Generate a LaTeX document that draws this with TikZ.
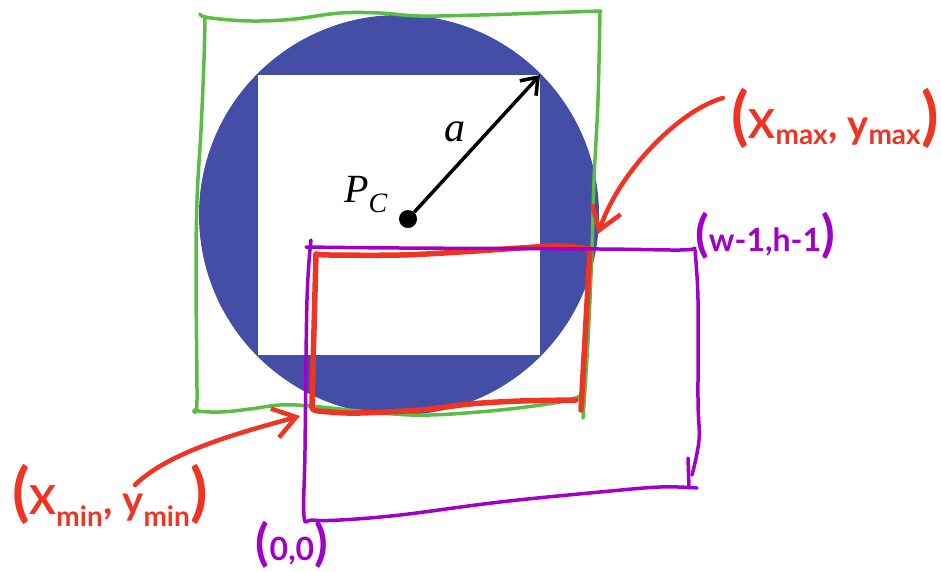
\documentclass[tikz,border=0pt]{standalone}
\usepackage{fontspec}
\setmainfont{Liberation Serif}
\newfontfamily\handfont{Lato}
\usetikzlibrary{arrows.meta}

\definecolor{discblue}{HTML}{444EA6}
\definecolor{boxgreen}{HTML}{5CBD45}
\definecolor{boxred}{HTML}{EE3524}
\definecolor{boxpurple}{HTML}{A100C9}

\newcommand{\hwparen}[2]{{\fontsize{#1}{#1}\selectfont #2}}

\begin{document}
\begin{tikzpicture}[x=1pt, y=-1pt,
    greenline/.style={draw=boxgreen, line width=3.5pt, line cap=round, line join=round},
    redline/.style={draw=boxred, line width=5.5pt, line cap=round, line join=round},
    purpleline/.style={draw=boxpurple, line width=3.5pt, line cap=round, line join=round},
    pointer/.style={draw=boxred, line width=4.5pt, line cap=round, -{Straight Barb[length=22pt, width=30pt, line width=4.5pt]}},
    redlabel/.style={text=boxred, font=\handfont\bfseries\fontsize{40}{40}\selectfont, inner sep=0pt},
    purplelabel/.style={text=boxpurple, font=\handfont\bfseries\fontsize{32}{32}\selectfont, inner sep=0pt}]

    \useasboundingbox (0,0) rectangle (941,571);

    % disc with the inscribed square
    \fill [discblue] (399,215) circle (200);
    \fill [white] (258,75) rectangle (540,355);

    % hand drawn boxes
    \draw [greenline] plot [smooth, tension=0.6] coordinates {(200,14) (205,17) (230,20) (260,21) (295,19) (340,13) (380,13) (420,16) (480,15) (540,13) (601,11)};
    \draw [greenline] plot [smooth, tension=0.6] coordinates {(600,11) (598,100) (594,180) (592,250) (588,340) (583,418)};
    \draw [greenline] plot [smooth, tension=0.6] coordinates {(205,17) (204,60) (201,130) (197,200) (196,280) (197,400) (195,410) (220,412) (250,409) (280,405) (310,406) (380,413) (430,415) (500,410) (560,402) (580,396)};

    \draw [redline] plot [smooth, tension=0.6] coordinates {(316,254) (330,255) (400,255) (460,252) (520,248) (560,246) (590,249)};
    \draw [redline] (316,254) -- (312,405);
    \draw [redline] (590,250) -- (581,410);
    \draw [redline] plot [smooth, tension=0.6] coordinates {(312,405) (314,410) (330,412) (360,413) (420,410) (470,404) (520,401) (576,400)};

    \draw [purpleline] plot [smooth, tension=0.6] coordinates {(311,240) (307,300) (305,450) (304,516) (312,520) (340,520) (400,515) (500,502) (600,492) (660,487) (697,488)};
    \draw [purpleline] plot [smooth, tension=0.6] coordinates {(306,247) (400,248) (600,249) (680,250) (695,248)};
    \draw [purpleline] plot [smooth, tension=0.6] coordinates {(695,250) (698,300) (698,400) (699,440) (692,475)};
    \draw [purpleline] (688,458) -- (689,488);

    % centre and radius
    \coordinate (corner) at (540,75);
    \node [circle, fill=black, inner sep=0pt, minimum size=18pt] (pc) at (408,219) {};
    \draw [line width=3.5pt, -{Straight Barb[length=15pt, width=22pt, line width=3.5pt]}] (pc) -- (corner);
    \node [font=\fontsize{40}{40}\selectfont\itshape] (pclabel) at (366,195) {P\textsubscript{C}};
    \node [font=\fontsize{42}{42}\selectfont\itshape] (alabel) at (455,132) {a};

    % corner labels
    \coordinate (maxcorner) at (598,234);
    \coordinate (mincorner) at (300,416);
    \node [redlabel] (maxlabel) at (835,118) {\hwparen{64}{(}X\textsubscript{max}, y\textsubscript{max}\hwparen{64}{)}};
    \node [redlabel] (minlabel) at (110,495) {\hwparen{64}{(}X\textsubscript{min}, y\textsubscript{min}\hwparen{64}{)}};
    \node [purplelabel] (whlabel) at (765,236) {\hwparen{50}{(}w-1,h-1\hwparen{50}{)}};
    \node [purplelabel] (originlabel) at (292,545) {\hwparen{50}{(}0,0\hwparen{50}{)}};

    \draw [pointer] (maxlabel.west) ++(-8,-20) .. controls (680,110) and (620,170) .. (maxcorner);
    \draw [pointer] (135,485) .. controls (170,450) and (250,430) .. (mincorner);
\end{tikzpicture}
\end{document}
